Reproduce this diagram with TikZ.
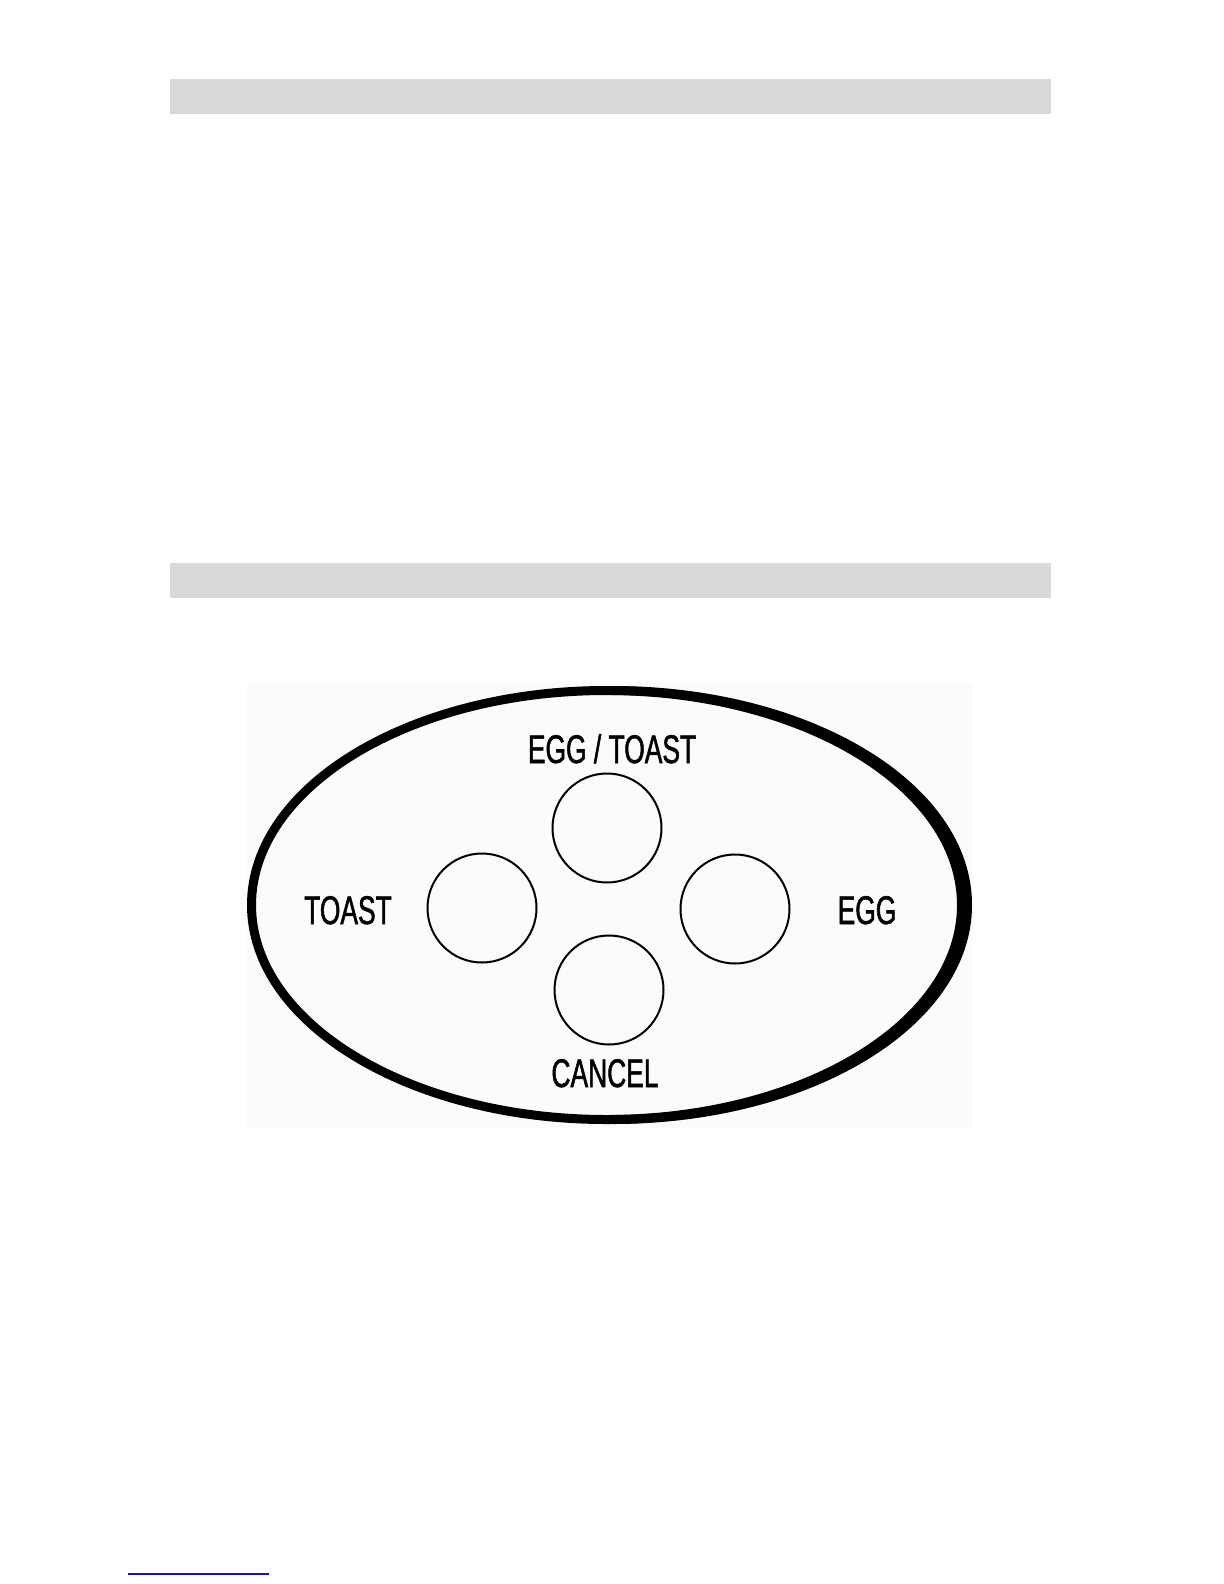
\documentclass[tikz,border=0pt]{standalone}
\usepackage{fontspec}
\newfontfamily\panelfont[FakeStretch=0.66, FakeBold=1.2]{Liberation Sans}
\definecolor{barfill}{HTML}{D9D9D9}
\definecolor{linkblue}{RGB}{25,25,150}
\begin{document}
\begin{tikzpicture}[x=0.5pt, y=-0.5pt,
    bar/.style={fill=barfill, draw=none},
    btn/.style={circle, draw, line width=1pt, minimum size=54.5pt, inner sep=0pt},
    btntext/.style={anchor=base, inner sep=0pt, font=\panelfont\fontsize{20}{24}\selectfont}]
  \useasboundingbox (0,0) rectangle (1224,1584);

  % section bars
  \fill[bar] (170,79) rectangle (1051,114);
  \fill[bar] (170,563) rectangle (1051,598);

  % control panel
  \fill[black!1.5] (247,682) rectangle (973,1128);
  \draw[line width=4.5pt] (606.5,905) ellipse [x radius=355, y radius=214.5];
  \begin{scope}
    \clip (612,600) rectangle (1000,1200);
    \draw[line width=4.5pt] (612.5,905) ellipse [x radius=355, y radius=214.5];
  \end{scope}

  \node[btn] (both) at (607,828) {};
  \node[btn] (toast) at (482,908) {};
  \node[btn] (egg) at (735,909) {};
  \node[btn] (cancel) at (609,990) {};

  \node[btntext] (bothtext) at (612,763) {EGG / TOAST};
  \node[btntext] (toasttext) at (348,924) {TOAST};
  \node[btntext] (eggtext) at (867,924) {EGG};
  \node[btntext] (canceltext) at (605,1087) {CANCEL};

  % link underline
  \coordinate (ul) at (128,1574);
  \coordinate (ur) at (269,1574);
  \draw[linkblue, line width=1pt] (ul) -- (ur);
\end{tikzpicture}
\end{document}
